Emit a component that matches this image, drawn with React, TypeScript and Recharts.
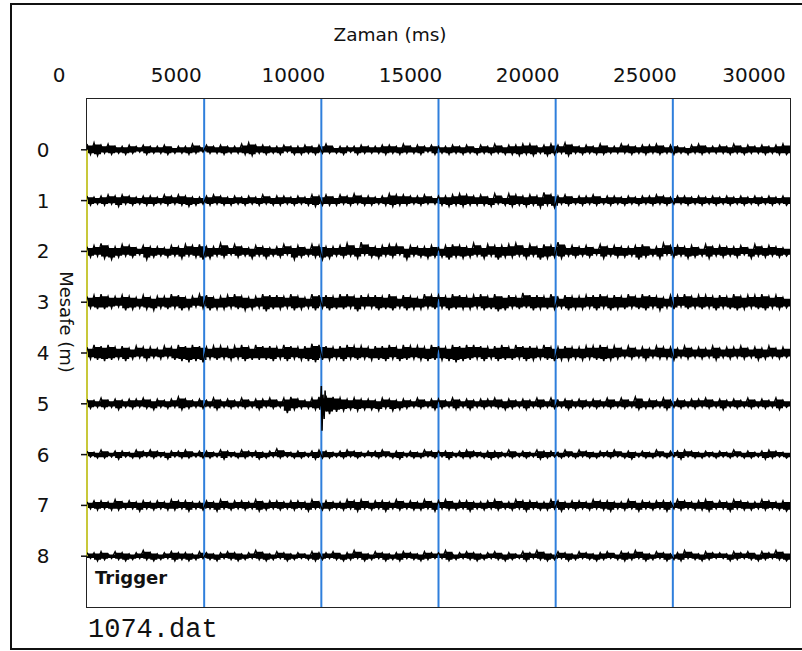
import React from 'react';
import { Area, ComposedChart, Line, ReferenceLine, XAxis, YAxis } from 'recharts';

// Seismic record 1074.dat: 9 geophones (0-8 m), 30 s of noise.
// Each trace: per 300 ms sample one upward peak then one downward peak,
// one digit per sample, in 1/44 of the trace spacing.
const CHANNELS = [0, 1, 2, 3, 4, 5, 6, 7, 8];
const TIME_TICKS = [0, 5000, 10000, 15000, 20000, 25000, 30000];
const GRID_TIMES = [5000, 10000, 15000, 20000, 25000];
const SAMPLE_MS = 300;
const AMP = 1 / 44;
const CORE = 0.75; // share of the peak that reads as solid black

const UPPER = [
  '5645334343 3423353434 3356443343 3434523334 3344353434 3343424353 4455345464 3435335434 4534324533 4353434345',
  '4345454344 3545433454 3434353443 4354535464 4346554453 4456545363 6545475453 4453443434 4543443434 3434343434',
  '4574465354 4354656447 4643543464 5365445748 5456635445 3565474655 6746465845 4536454456 3475545364 5445364543',
  '5675565464 5576457645 6754576657 5476657756 6657465476 6576567575 6586657465 5667565757 6546675665 6575667564',
  '5767564655 4657676566 5675766576 5687656766 5667576657 6576776567 5766575565 5667564645 4655464546 4556454645',
  '4353434453 4346434353 4353445356 4356765454 4354343534 4353434453 4343535343 4343535363 4353434453 4343534353',
  '3242332434 3233423324 3243323532 3234323432 3342323243 3323432332 4232433242 4323342323 2423343232 3242323432',
  '3443534343 4354433435 3443534434 4353433545 3443534353 4534433453 3544335434 4354433534 3443543453 4354335434',
  '3342432353 2343324323 4323532432 3243342353 2432343243 3523432342 3243532432 4323424353 2432353243 3243424353',
];

const LOWER = [
  '4534343243 3433432334 3345343424 4343334243 3343433424 3434343434 4545354353 4344333434 3434343433 3434334344',
  '4343534344 3434543434 4343434434 3454443434 4345443433 4545444534 5454646343 4343434343 4343343434 3434343434',
  '5467545375 4546457645 3546464537 5457645463 5645374565 5756546475 5464765645 4536455475 4635465464 5453645454',
  '5665476567 5657645766 5676586657 6575766585 5767576656 5766657687 5657666576 6575766567 5756465657 5676567565',
  '5676575464 5467878565 6576667575 6786657565 6675765676 6787657576 6576567665 6567654546 4556454546 4545465454',
  '4343534345 3435434353 4343534385 4457976565 5646543435 4353534345 4353434353 4343434354 4353434343 5343434353',
  '2332423323 2423323324 2332432323 3243323232 2323423323 2423323432 3232432323 2332323423 3232423323 2323324323',
  '3434433534 3443534353 4343543434 3534434353 4353434435 3443534343 4353443534 3434534353 4353434453 3534434345',
  '2432343234 3243432342 3432343243 2343234324 3243423432 2432343234 3242343243 2343234324 3243423432 2432343234',
];

// the one clear arrival, on the 5 m trace just after 10 s
const EVENT_T = [9960, 10000, 10030, 10070, 10120, 10160, 10200, 10250];
const EVENT_V = [5.05, 4.65, 5.53, 4.82, 5.3, 4.74, 5.15, 5.0];

const digits = (s: string) => s.replace(/ /g, '').split('').map(Number);

function buildRows() {
  const up = UPPER.map(digits);
  const dn = LOWER.map(digits);
  const n = up[0].length;
  const rows: Array<Record<string, any>> = [];
  for (let i = 0; i < n; i++) {
    const hi: Record<string, any> = { t: i * SAMPLE_MS };
    const lo: Record<string, any> = { t: i * SAMPLE_MS + SAMPLE_MS / 2 };
    CHANNELS.forEach((k) => {
      const band = [k - up[k][i] * AMP * CORE, k + dn[k][i] * AMP * CORE];
      hi[`c${k}`] = k - up[k][i] * AMP;
      lo[`c${k}`] = k + dn[k][i] * AMP;
      hi[`b${k}`] = band;
      lo[`b${k}`] = band;
    });
    rows.push(hi, lo);
  }
  const end: Record<string, any> = { t: n * SAMPLE_MS };
  CHANNELS.forEach((k) => {
    end[`c${k}`] = k;
    end[`b${k}`] = rows[rows.length - 1][`b${k}`];
  });
  rows.push(end);
  return rows;
}

const FONT = '"DejaVu Sans", Verdana, sans-serif';
const W = 802;
const H = 651;
const M = { top: 39, right: 0, bottom: 44, left: 0 };
const X_AXIS_H = 60;
const Y_AXIS_W = 87;
const Y_AXIS_R_W = 12;

function TimeTick(props: any) {
  const { x, y, payload } = props;
  return (
    <text x={x - 28} y={y - 24} dy="0.35em" textAnchor="middle" fontFamily={FONT} fontSize={20} fill="#111">
      {payload.value}
    </text>
  );
}

function DistTick(props: any) {
  const { x, y, payload } = props;
  return (
    <text x={x - 36} y={y} dy="0.35em" textAnchor="middle" fontFamily={FONT} fontSize={20} fill="#111">
      {payload.value}
    </text>
  );
}

export default function App() {
  const rows = buildRows();
  const event = EVENT_T.map((t, i) => ({ t, v: EVENT_V[i] }));
  const plot = {
    left: M.left + Y_AXIS_W,
    top: M.top + X_AXIS_H,
    width: W - M.left - M.right - Y_AXIS_W - Y_AXIS_R_W,
    height: H - M.top - M.bottom - X_AXIS_H,
  };
  return (
    <div
      style={{
        position: 'absolute',
        left: 0,
        top: 0,
        width: W,
        height: H,
        background: '#fff',
        overflow: 'hidden',
      }}
    >
      <div
        style={{
          position: 'absolute',
          left: 10,
          top: 3,
          width: 820,
          height: 647,
          border: '2px solid #111',
          boxSizing: 'border-box',
        }}
      />
      {/* plot frame, under the svg so the trigger line covers its left edge */}
      <div
        style={{
          position: 'absolute',
          left: plot.left - 1,
          top: plot.top - 1,
          width: plot.width + 2,
          height: plot.height + 2,
          border: '1.5px solid #222',
          boxSizing: 'border-box',
        }}
      />
      <div style={{ position: 'absolute', left: 0, top: 0 }}>
        <ComposedChart width={W} height={H} data={rows} margin={M}>
          <XAxis
            dataKey="t"
            type="number"
            orientation="top"
            domain={[0, 30000]}
            ticks={TIME_TICKS}
            height={X_AXIS_H}
            tickSize={0}
            tickMargin={0}
            tickLine={false}
            axisLine={false}
            tick={<TimeTick />}
            allowDataOverflow
          />
          <YAxis
            type="number"
            domain={[-1, 9]}
            ticks={CHANNELS}
            reversed
            width={Y_AXIS_W}
            tickSize={6}
            tickMargin={2}
            tickLine={{ stroke: '#111', strokeWidth: 1.5 }}
            axisLine={false}
            tick={<DistTick />}
            allowDataOverflow
          />
          <YAxis
            yAxisId="r"
            orientation="right"
            type="number"
            domain={[-1, 9]}
            ticks={CHANNELS}
            reversed
            width={Y_AXIS_R_W}
            tickSize={6}
            tickLine={{ stroke: '#111', strokeWidth: 1.5 }}
            axisLine={false}
            tick={() => <g />}
          />
          {GRID_TIMES.map((t) => (
            <ReferenceLine key={t} x={t} stroke="#2f7fdc" strokeWidth={2} />
          ))}
          <ReferenceLine
            segment={[
              { x: 0, y: 0 },
              { x: 0, y: 8 },
            ]}
            stroke="#c8c83a"
            strokeWidth={2}
            ifOverflow="visible"
          />
          {CHANNELS.map((k) => (
            <Area
              key={`b${k}`}
              dataKey={`b${k}`}
              type="stepAfter"
              fill="#000"
              fillOpacity={1}
              stroke="none"
              dot={false}
              activeDot={false}
              isAnimationActive={false}
            />
          ))}
          {CHANNELS.map((k) => (
            <Line
              key={`c${k}`}
              dataKey={`c${k}`}
              type="linear"
              stroke="#000"
              strokeWidth={1.4}
              dot={false}
              activeDot={false}
              isAnimationActive={false}
            />
          ))}
          <Line
            data={event}
            dataKey="v"
            type="linear"
            stroke="#000"
            strokeWidth={1.5}
            dot={false}
            activeDot={false}
            isAnimationActive={false}
          />
        </ComposedChart>
      </div>
      <div
        style={{
          position: 'absolute',
          left: 290,
          top: 25,
          width: 200,
          lineHeight: '20px',
          textAlign: 'center',
          fontFamily: FONT,
          fontSize: 18.5,
          color: '#111',
        }}
      >
        Zaman (ms)
      </div>
      <div
        style={{
          position: 'absolute',
          left: 6,
          top: 312,
          width: 120,
          lineHeight: '20px',
          textAlign: 'center',
          fontFamily: FONT,
          fontSize: 18,
          color: '#111',
          transform: 'rotate(90deg)',
          transformOrigin: '60px 10px',
        }}
      >
        Mesafe (m)
      </div>
      <div
        style={{
          position: 'absolute',
          left: 95,
          top: 568,
          lineHeight: '20px',
          fontFamily: FONT,
          fontWeight: 'bold',
          fontSize: 18,
          color: '#111',
        }}
      >
        Trigger
      </div>
      <div
        style={{
          position: 'absolute',
          left: 88,
          top: 615,
          lineHeight: '30px',
          fontFamily: '"Liberation Mono", "Courier New", monospace',
          fontSize: 27,
          color: '#111',
        }}
      >
        1074.dat
      </div>
    </div>
  );
}
